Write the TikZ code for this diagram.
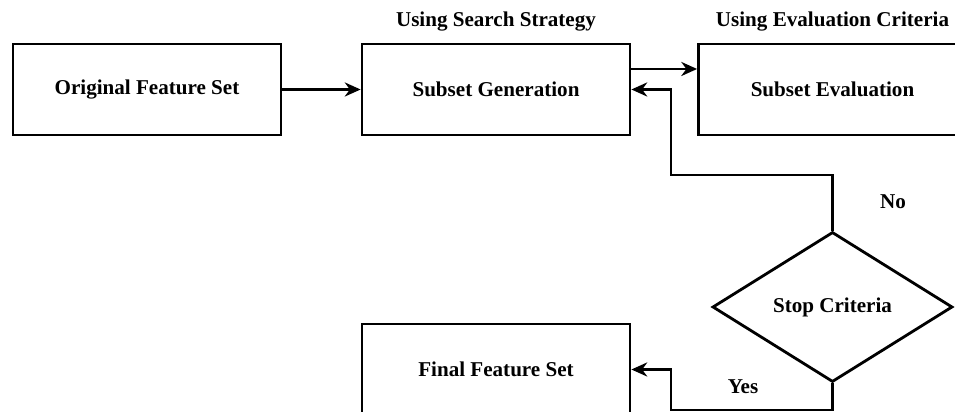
\documentclass[tikz,border=0pt]{standalone}
\usepackage{fontspec}
\setmainfont{Liberation Serif}
\usepackage{tikz}
\usetikzlibrary{shapes.geometric,arrows.meta}

\begin{document}
\begin{tikzpicture}[line width=1.6pt, >={Stealth[length=9pt,width=8pt]},
    every node/.style={font=\fontsize{12}{14}\selectfont\bfseries},
    box/.style={draw, rectangle, minimum width=5.36cm, minimum height=1.82cm},
    decision/.style={draw, diamond, minimum width=4.8cm, minimum height=3cm, inner sep=0pt}]
    \useasboundingbox (0,0) rectangle (19.1,8.24);

    \node[box] (orig) at (2.94,6.45) {Original Feature Set};
    \node[box] (gen) at (9.92,6.45) {Subset Generation};
    \node[box] (eval) at (16.65,6.45) {Subset Evaluation};
    \node[decision] (stop) at (16.65,2.1) {Stop Criteria};
    \node[box] (final) at (9.92,0.85) {Final Feature Set};

    \node (gentitle) at (9.92,7.8) {Using Search Strategy};
    \node (evaltitle) at (16.65,7.8) {Using Evaluation Criteria};
    \node (no) at (17.86,4.2) {No};
    \node (yes) at (14.86,0.5) {Yes};

    \coordinate (fbk) at (13.42,4.74);
    \coordinate (yesturn) at (13.42,0.04);

    \draw[->] (orig) -- (gen);
    \draw[->] ([yshift=0.41cm]gen.east) -- ([yshift=0.41cm]eval.west);
    \draw[->] (stop.north) |- (fbk) |- (gen.east);
    \draw[->] (stop.south) |- (yesturn) |- (final.east);
\end{tikzpicture}
\end{document}
